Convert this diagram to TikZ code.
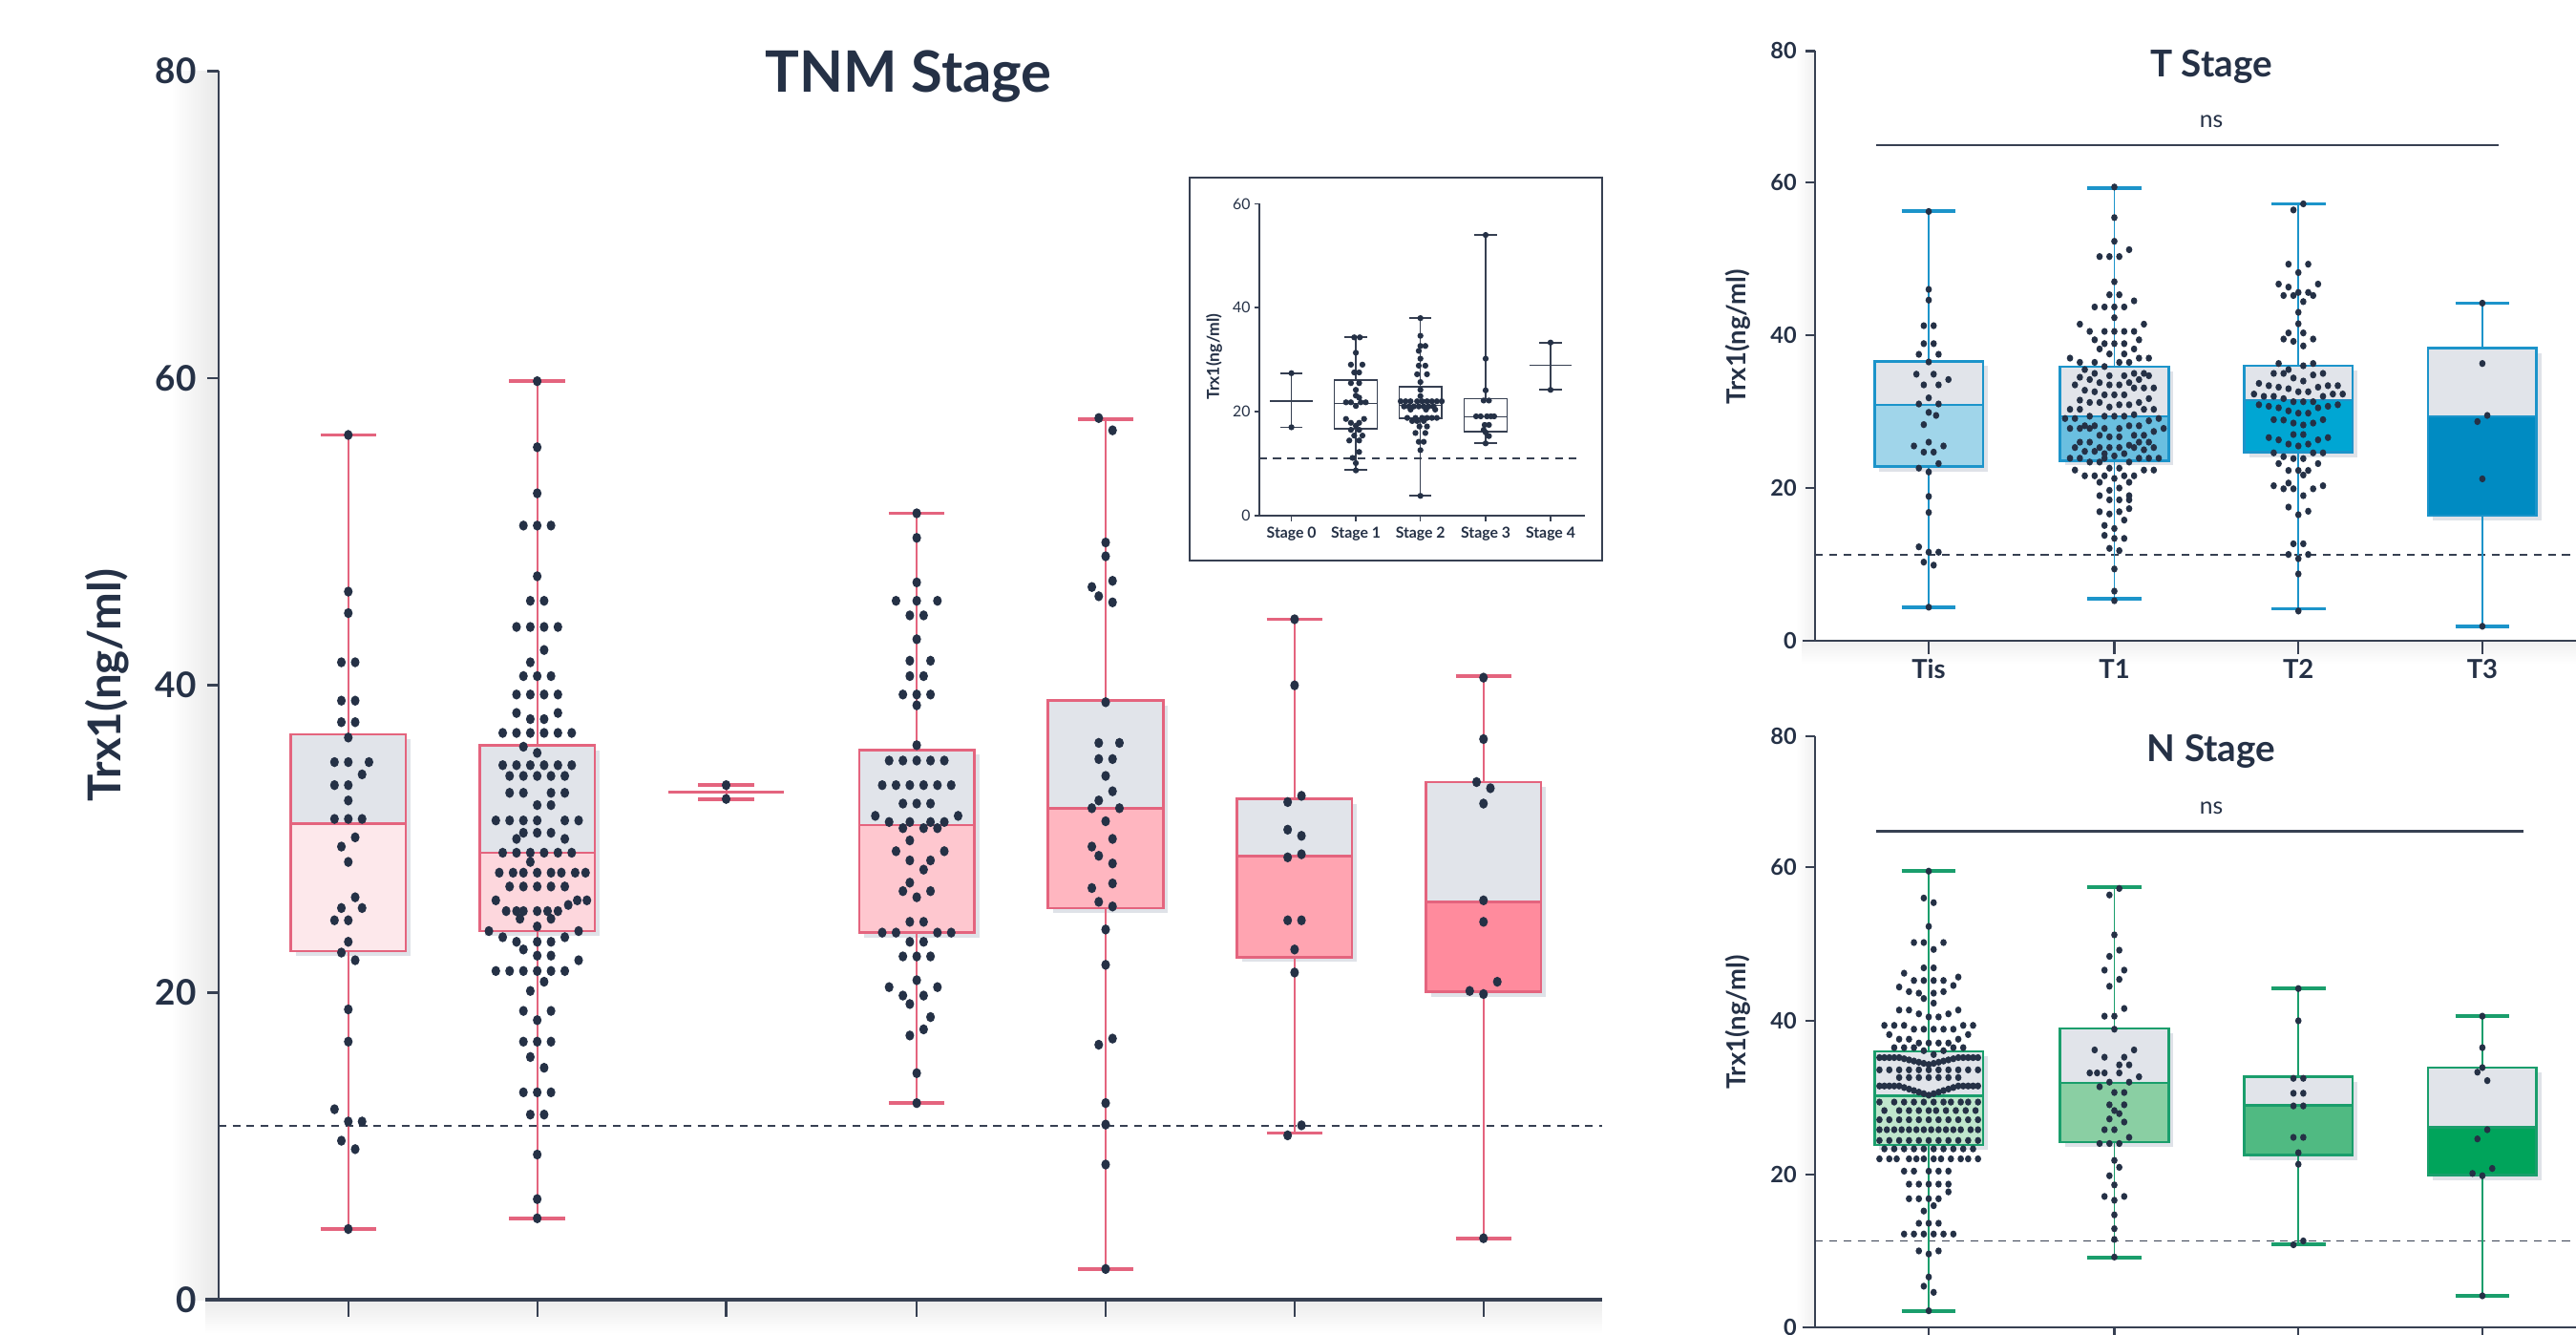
\documentclass[tikz,border=0pt]{standalone}
\usepackage{fontspec}
\setmainfont{Lato}
\definecolor{ink}{RGB}{37,49,70}
\definecolor{axisc}{RGB}{55,64,82}
\definecolor{upper}{RGB}{225,228,234}
\definecolor{boxshade}{RGB}{223,226,232}
\definecolor{rosered}{RGB}{228,100,126}
\definecolor{roseA}{RGB}{253,232,235}
\definecolor{roseB}{RGB}{253,215,221}
\definecolor{roseC}{RGB}{254,199,207}
\definecolor{roseD}{RGB}{255,182,192}
\definecolor{roseE}{RGB}{255,164,177}
\definecolor{roseF}{RGB}{255,139,157}
\definecolor{tblue}{RGB}{28,148,202}
\definecolor{blueA}{RGB}{160,213,234}
\definecolor{blueB}{RGB}{106,191,224}
\definecolor{blueC}{RGB}{0,166,211}
\definecolor{blueD}{RGB}{0,139,194}
\definecolor{ngreen}{RGB}{26,158,108}
\definecolor{greenA}{RGB}{191,230,204}
\definecolor{greenB}{RGB}{138,207,163}
\definecolor{greenC}{RGB}{80,186,130}
\definecolor{greenD}{RGB}{0,164,91}
\tikzset{
  whisk/.style={draw=#1,line width=0.55pt},
  whiskcap/.style={draw=#1,line width=1.1pt},
  boxedge/.style={draw=#1,line width=0.75pt},
  refline/.style={draw=axisc,line width=0.5pt,dash pattern=on 2.3pt off 1.9pt},
  axisline/.style={draw=axisc,line width=0.7pt},
  insetline/.style={draw=axisc,line width=0.45pt},
  numlab/.style={anchor=east},
  paneltitle/.style={anchor=base,font=\bfseries\fontsize{11}{13}\selectfont},
  panelylab/.style={rotate=90,font=\bfseries\fontsize{7.8}{9}\selectfont},
  paneltick/.style={numlab,font=\bfseries\fontsize{6.7}{8}\selectfont},
}
\begin{document}
\begin{tikzpicture}[x=0.017207cm,y=0.017207cm,every node/.style={text=ink,inner sep=0pt}]
\clip (0,0) rectangle (1568,812);
\fill[white] (0,0) rectangle (1568,812);

% ---------- TNM stage ----------
\begin{scope}[shift={(0,21)},y=0.160885cm]
\shade[left color=white,right color=black!9] (104,0) rectangle (133,80);
\shade[top color=black!8,bottom color=white] (125,0) rectangle (975,-2.2);
\draw[refline] (133,11.3) -- (975,11.3);
% boxes: centre/q1/median/q3/min/max/fill
\foreach \cx/\lo/\md/\hi/\wl/\wh/\fc in {212/22.7/31.0/36.8/4.6/56.3/roseA,327/24.0/29.1/36.1/5.3/59.8/roseB,558/23.9/30.9/35.8/12.8/51.2/roseC,673/25.5/32.0/39.0/2.0/57.3/roseD,788/22.3/28.9/32.6/10.85/44.3/roseE,903/20.05/25.9/33.7/4.0/40.6/roseF}{
  \fill[boxshade] (\cx-32,\lo-0.32) rectangle (\cx+38,\hi-0.32);
  \draw[whisk=rosered] (\cx,\wl) -- (\cx,\wh);
  \draw[whiskcap=rosered] (\cx-17,\wl) -- (\cx+17,\wl) (\cx-17,\wh) -- (\cx+17,\wh);
  \fill[\fc] (\cx-35,\lo) rectangle (\cx+35,\md);
  \fill[upper] (\cx-35,\md) rectangle (\cx+35,\hi);
  \draw[boxedge=rosered] (\cx-35,\lo) rectangle (\cx+35,\hi) (\cx-35,\md) -- (\cx+35,\md);
}
% two-sample stage
\draw[whisk=rosered] (442,32.6) -- (442,33.5);
\draw[whiskcap=rosered] (425,32.6) -- (459,32.6) (425,33.5) -- (459,33.5);
\draw[whiskcap=rosered] (407,33.05) -- (477,33.05);
% swarm points: value/{offsets}
\foreach \cx/\rows in {
  212/{56.3/{0},46.1/{0},44.7/{0},41.5/{-1,1},39.0/{-1,1},37.6/{-1,1},36.6/{0},35.0/{-2,0,3},34.2/{2},33.5/{-2,0},32.5/{0},31.3/{-2,0,2},30.1/{1},29.5/{-1},28.5/{0},26.2/{1},25.5/{-1,2},24.7/{-2,0},23.3/{0},22.6/{-1},22.1/{1},18.9/{0},16.8/{0},12.4/{-2},11.6/{0,2},10.35/{-1},9.8/{1},4.6/{0}},
  327/{59.8/{0},55.5/{0},52.5/{0},50.4/{-2,0,2},47.1/{0},45.5/{-1,1},43.8/{-3,-1,1,3},42.3/{1},41.5/{-1},40.6/{-2,0,2},39.4/{-3,-1,1,3},38.2/{-3,3},37.8/{-1,1},36.9/{-5,-3,-1,1,3,5},36.0/{-2},35.6/{0},34.8/{-5,-3,-1,1,3,5},34.1/{-4,-2,0,2,4},33.0/{-4,-2,2,4},32.2/{0,2},31.2/{-6,-4,-2,0,4,6},30.4/{-2,0,2},30.0/{-3,4},29.1/{-5,-3,-1,1,3,5},28.5/{-1},27.8/{-5.5,-3.5,-2,0,2,3.5,5.5,7},26.9/{-4,-2,0,2,4},26.0/{-6,5.8,7.2},25.7/{4.5},25.3/{-4.5,-3,-2,0,1.5,3},24.8/{-2.5,2},24.3/{0},24.0/{-7,6},23.6/{-5,4},23.3/{-3,0,2},22.8/{-2},22.4/{0,2},22.1/{6},21.4/{-6,-4,-2,0,2,4},20.7/{1},20.1/{-1},18.8/{-2,2},18.2/{0},16.8/{-2,0,2},15.8/{-1},15.1/{1},13.5/{-2,0,2},12.05/{-1,1},9.45/{0},6.55/{0},5.3/{0}},
  442/{33.5/{0},32.6/{0}},
  558/{51.2/{0},49.6/{0},46.7/{0},45.5/{-3,0,3},44.55/{-1,1},43.0/{0},41.6/{-1,2},40.6/{-1,1},39.4/{-2,0,2},38.7/{0},36.1/{0},35.1/{-4,-2,0,2,4},33.5/{-5,-3,-1,1,3,5},32.3/{-2,0,2},31.5/{-6,6},31.1/{-4,-1,2,4},30.7/{-2,1,3},29.9/{-1},29.2/{-3,4},28.6/{-1,2},28.0/{1},27.15/{-1},26.6/{-2,2},26.2/{0},24.6/{-1,1},23.9/{-5,-3,3,5},23.3/{-1,1},22.35/{-2,0,2},20.8/{0},20.35/{-4,3},19.8/{-2,1},19.25/{-1},18.4/{2},17.6/{1},17.2/{-1},14.75/{0},12.8/{0}},
  673/{57.4/{-1},56.6/{1},49.3/{0},48.4/{0},46.8/{1},46.4/{-2},45.8/{-1},45.4/{1},38.9/{0},36.25/{-1,2},35.2/{-1,1},34.1/{0},33.1/{1},32.5/{-1},32.0/{-2,2},31.15/{0},30.0/{1},29.5/{-2},28.9/{-1},28.4/{1},27.1/{1},26.8/{-2},25.9/{-1},25.6/{1},24.1/{0},21.8/{0},17.0/{1},16.6/{-1},12.8/{0},11.4/{0},8.8/{0},2.0/{0}},
  788/{44.3/{0},40.0/{0},32.8/{1},32.4/{-1},30.6/{-1},30.2/{1},29.0/{1},28.8/{-1},24.7/{-1,1},22.8/{0},21.3/{0},11.35/{1},10.7/{-1}},
  903/{40.5/{0},36.5/{0},33.7/{-1},33.3/{1},32.3/{0},26.0/{0},24.6/{0},20.7/{2},20.1/{-2},19.9/{0},4.0/{0}}}
  \foreach \v/\hs in \rows
    \foreach \h in \hs
      \fill[ink] ({\cx+4.2*(\h)},\v) ellipse [x radius=1.3pt,y radius=1.5pt];
% axes
\draw[axisline] (133,0) -- (133,80);
\draw[axisline,line width=1pt] (125,0) -- (975,0);
\foreach \t in {0,20,40,60,80}{
  \draw[axisline] (126,\t) -- (133,\t);
  \node[numlab,font=\bfseries\fontsize{10.5}{12}\selectfont] (tnm-y\t) at (120,\t) {\t};}
\foreach \cx in {212,327,442,558,673,788,903}
  \draw[axisline,line width=0.6pt] (\cx,0) -- (\cx,-1.1);
\node[anchor=base,font=\bfseries\fontsize{17}{20}\selectfont] (tnm-title) at (553,78.6) {TNM Stage};
\node[rotate=90,font=\bfseries\fontsize{13.5}{16}\selectfont] (tnm-ylab) at (65,40) {Trx1(ng/ml)};
\end{scope}

% ---------- inset ----------
\fill[white] (724,471) rectangle (975,704);
\draw[axisc,line width=0.6pt] (724,471) rectangle (975,704);
\begin{scope}[shift={(0,498.2)},y=0.054426cm]
\draw[refline,line width=0.35pt] (766.4,11) -- (962,11);
\foreach \cx/\lo/\md/\hi/\wl/\wh in {825.3/16.7/21.6/26.1/8.8/34.4,864.6/18.7/21.2/24.8/3.8/38.0,904.3/16.2/19.0/22.5/13.9/54.0}{
  \draw[insetline] (\cx,\wl) -- (\cx,\lo) (\cx,\hi) -- (\cx,\wh);
  \draw[insetline] (\cx-6.8,\wl) -- (\cx+6.8,\wl) (\cx-6.8,\wh) -- (\cx+6.8,\wh);
  \draw[insetline] (\cx-13,\lo) rectangle (\cx+13,\hi) (\cx-13,\md) -- (\cx+13,\md);
}
\foreach \cx/\lo/\md/\hi in {786.1/17.0/22.0/27.4,943.8/24.2/28.9/33.3}{
  \draw[insetline] (\cx,\lo) -- (\cx,\hi);
  \draw[insetline] (\cx-6.8,\lo) -- (\cx+6.8,\lo) (\cx-6.8,\hi) -- (\cx+6.8,\hi);
  \draw[insetline] (\cx-13,\md) -- (\cx+13,\md);
}
\foreach \cx/\rows in {
  786.1/{27.4/{0},17.0/{0}},
  825.3/{34.3/{-0.5,1.2},31.35/{0},29.05/{-1.5,2},27.55/{-0.5,1},25.5/{-1.5,1},24.2/{0},23.1/{0},22.7/{1},21.8/{-3,-1.5,1.5,3},21.1/{0},18.6/{-3,2.5},17.85/{-1.5,1},17.3/{0},16.5/{-1.5,1},15.4/{-0.5,2},14.45/{-2,1},12.25/{1},11.1/{-1},10.1/{0},8.7/{0}},
  864.6/{38.0/{0},34.6/{0},32.65/{0,1.5},31.7/{-0.5},30.2/{0},28.85/{-0.5,1.5},27.2/{-1,2},25.7/{0},24.2/{0},23.0/{0},22.0/{-6,-4.5,-3,-1,0.5,2,3.5,5,6.5},21.0/{-5,-3.5,-2,-0.5,1,2.5,4},20.4/{-3,1.7,4.5},18.8/{-4,-1.5,0.5,2,3.5,5},18.2/{-2.5,-1,1},17.15/{-0.3,2},15.9/{-1.5,1.5},14.2/{-0.5,1},12.6/{0},3.8/{0}},
  904.3/{54.0/{0},30.2/{0},24.1/{0},22.15/{-0.6,1},19.1/{-2.9,-1.5,0.4,1.6,2.6},17.45/{-0.3,1},16.5/{-0.6},16.0/{0},15.3/{1},13.9/{0}},
  943.8/{33.3/{0},24.2/{0}}}
  \foreach \v/\hs in \rows
    \foreach \h in \hs
      \fill[ink] ({\cx+2*(\h)},\v) circle [radius=0.9pt];
\draw[insetline] (766.4,0) -- (766.4,60);
\draw[insetline] (766.4,0) -- (965,0);
\foreach \t in {0,20,40,60}{
  \draw[insetline] (763.4,\t) -- (766.4,\t);
  \node[numlab,font=\fontsize{4.5}{5}\selectfont] (ins-y\t) at (761.5,\t) {\t};}
\foreach \cx/\i in {786.1/0,825.3/1,864.6/2,904.3/3,943.8/4}{
  \draw[insetline] (\cx,0) -- (\cx,-1.2);
  \node[font=\bfseries\fontsize{4.5}{5}\selectfont] (ins-x\i) at (\cx,-3.6) {Stage \i};}
\node[rotate=90,font=\bfseries\fontsize{5}{6}\selectfont] (ins-ylab) at (739,30.6) {Trx1(ng/ml)};
\end{scope}

% ---------- T stage ----------
\begin{scope}[shift={(0,422)},y=0.080013cm]
\shade[left color=white,right color=black!6] (1093,0) rectangle (1105,77.2);
\shade[top color=black!6,bottom color=white] (1097,0) rectangle (1568,-3);
\draw[refline] (1105,11.3) -- (1568,11.3);
\foreach \cx/\lo/\md/\hi/\wl/\wh/\fc in {1174/22.8/30.9/36.6/4.35/56.3/blueA,1287/23.6/29.4/35.9/5.5/59.3/blueB,1399/24.7/31.5/36.0/4.2/57.2/blueC,1511/16.4/29.4/38.3/1.9/44.2/blueD}{
  \fill[boxshade] (\cx-30,\lo-0.65) rectangle (\cx+36,\hi-0.65);
  \draw[whisk=tblue] (\cx,\wl) -- (\cx,\wh);
  \draw[whiskcap=tblue] (\cx-16.5,\wl) -- (\cx+16.5,\wl) (\cx-16.5,\wh) -- (\cx+16.5,\wh);
  \fill[\fc] (\cx-33,\lo) rectangle (\cx+33,\md);
  \fill[upper] (\cx-33,\md) rectangle (\cx+33,\hi);
  \draw[boxedge=tblue] (\cx-33,\lo) rectangle (\cx+33,\hi) (\cx-33,\md) -- (\cx+33,\md);
}
\foreach \cx/\rows in {
  1174/{56.2/{0},46.0/{0},44.6/{0},41.25/{-1,1},38.9/{-1,1},37.5/{-2,2},36.5/{0},34.9/{-2.5,1},34.2/{4},33.5/{-1,2},31.8/{0},31.0/{-2,2},29.9/{0},29.5/{1.5},28.3/{-1},26.0/{0},25.5/{-3,3},24.7/{-1,1},23.2/{2},22.6/{-2},22.1/{0},18.9/{0},16.8/{0},12.3/{-2},11.6/{0,2},10.3/{-1},9.9/{1},4.4/{0}},
  1287/{59.4/{0},55.4/{0},52.3/{0},51.2/{3},50.3/{-3,-1,1},47.0/{0},45.3/{-1,1},44.5/{4},43.7/{-4,-2,0,2},42.3/{0},41.45/{-7,6},40.5/{-5,-2,0,2,4},39.4/{-4,5},38.9/{-2,0,2},38.2/{-3,4},37.55/{-1,2},37.0/{-9,5,7},36.45/{-7,-4,1,3},35.9/{-2},35.5/{-6},35.0/{-4,4,6},34.7/{-1,2,7},34.5/{-7},34.2/{-5,5},33.8/{-3,3},33.5/{-8,-1,1},33.1/{4,6,8},32.8/{-6},32.6/{-4},32.2/{-2,0,2},31.7/{7},31.5/{-7},31.2/{-5,-3,5},30.9/{1,3},30.6/{-1},30.3/{-9,-7,6,8},29.6/{4},29.4/{-5,-2,0,2},29.1/{-10,-8,9},28.8/{7},28.15/{-6,-4,3,5},27.8/{-9,-7,-5,-2,1,10},27.4/{8},26.9/{-3,4,6},26.7/{-1,1},26.0/{-7,-5,5,7},25.6/{3},25.3/{-8,-3,-1,1,4,8},25.0/{6},24.8/{-6,-4},24.5/{-2,2},24.2/{0},23.9/{-9,-7,-2,5,7,9},23.4/{-5,-3,3},22.6/{-1,1},22.35/{-8,6,8},21.6/{-6,-4,-2,2,4},21.25/{0},20.75/{-3,3},20.0/{1},19.7/{-1},19.0/{-3,3},18.45/{-1,1,3},17.3/{3},16.9/{-3,1},16.6/{-1},15.8/{2},15.1/{-2},14.7/{0},13.8/{-2},13.4/{0,2},12.1/{-1},11.8/{1},9.4/{0},6.5/{0},5.25/{0}},
  1399/{57.2/{1},56.4/{-1},49.3/{-2,2},48.2/{0},46.7/{-4,4},46.3/{-2},45.6/{0,2},45.2/{-3,-1,3},44.4/{1},43.0/{0},41.5/{0},40.3/{-2,1},39.5/{-3,3},39.2/{-1},38.6/{1},36.3/{-4,3},36.0/{1},35.5/{-2},35.0/{-5,-3,5},34.8/{3},34.4/{-1},34.0/{1},33.7/{-8},33.4/{-6,6,8},33.2/{-4,4},33.0/{-2},32.6/{0,2},32.3/{-9,7,9},32.0/{-7,-5,5},31.7/{-3},31.3/{-1,1,3},30.9/{-8,8},30.7/{-6,6},30.5/{-4,4},30.1/{-2},29.8/{0,2},28.95/{-5,5},28.9/{-3},28.5/{-1,3},28.25/{1},27.0/{-1,1},26.6/{-6,6},26.3/{-4,4},25.75/{-2,2},25.5/{0},24.6/{-5,3,5},24.1/{-3},23.85/{-1,1},23.2/{-4,4},22.3/{-2,0,2},21.7/{1},20.65/{-2},20.3/{-5,5},19.9/{-3,-1,3},19.0/{1},17.5/{-2},16.96/{2},16.5/{0},12.7/{-1,1},11.3/{-2,2},10.75/{0},8.75/{0},3.9/{0}},
  1511/{44.2/{0},36.3/{0},29.5/{1},28.7/{-1},21.2/{0},1.9/{0}}}
  \foreach \v/\hs in \rows
    \foreach \h in \hs
      \fill[ink] ({\cx+3*(\h)},\v) ellipse [x radius=0.95pt,y radius=1.05pt];
\draw[axisline,line width=0.6pt] (1105,0) -- (1105,77.2);
\draw[axisline,line width=0.6pt] (1097,0) -- (1568,0);
\foreach \t/\p in {0/0,20/20,40/40,60/60,80/77.2}{
  \draw[axisline,line width=0.6pt] (1099,\p) -- (1105,\p);
  \node[paneltick] (t-y\t) at (1094,\p) {\t};}
\foreach \cx/\lab in {1174/Tis,1287/T1,1399/T2,1511/T3}{
  \draw[axisline,line width=0.6pt] (\cx,0) -- (\cx,-1.8);
  \node[font=\bfseries\fontsize{7.8}{9}\selectfont] (t-\lab) at (\cx,-3.7) {\lab};}
\draw[axisline,line width=0.6pt] (1142,64.9) -- (1521,64.9);
\node[font=\fontsize{7}{8}\selectfont] (t-ns) at (1346,68.0) {ns};
\node[paneltitle] (t-title) at (1346,73.8) {T Stage};
\node[panelylab] (t-ylab) at (1058,39.8) {Trx1(ng/ml)};
\end{scope}

% ---------- N stage ----------
\begin{scope}[shift={(0,4)},y=0.080357cm]
\shade[left color=white,right color=black!6] (1093,0) rectangle (1105,77.1);
\draw[refline] (1105,11.3) -- (1568,11.3);
\foreach \cx/\lo/\md/\hi/\wl/\wh/\fc in {1174/23.8/30.2/36.0/2.2/59.5/greenA,1287/24.2/31.9/39.0/9.1/57.4/greenB,1399/22.5/29.0/32.7/10.9/44.2/greenC,1511/19.9/26.1/33.9/4.15/40.6/greenD}{
  \fill[boxshade] (\cx-30,\lo-0.65) rectangle (\cx+36,\hi-0.65);
  \draw[whisk=ngreen] (\cx,\wl) -- (\cx,\wh);
  \draw[whiskcap=ngreen] (\cx-16.5,\wl) -- (\cx+16.5,\wl) (\cx-16.5,\wh) -- (\cx+16.5,\wh);
  \fill[\fc] (\cx-33,\lo) rectangle (\cx+33,\md);
  \fill[upper] (\cx-33,\md) rectangle (\cx+33,\hi);
  \draw[boxedge=ngreen] (\cx-33,\lo) rectangle (\cx+33,\hi) (\cx-33,\md) -- (\cx+33,\md);
}
\foreach \cx/\rows in {
  1174/{59.5/{0},56.0/{-1},55.4/{1},52.3/{0},50.2/{-3,-1,3},49.3/{1},46.9/{-1,1},46.2/{-5},45.7/{6},45.25/{-3,-1,1,3},44.6/{5},44.4/{-6},43.8/{-4,3},43.6/{-2,1},42.9/{-1},42.3/{1},41.4/{-6,-4,6},40.9/{-2,4},40.5/{0,2},39.4/{-9,-7,-5,7,9},38.9/{-3,-1,1,3,5},38.2/{-8,8},37.6/{-6,-4,6},37.1/{-2,0,2,4},36.5/{-7,-5,-3,5,7},36.1/{-1,3},35.6/{1},33.6/{-10,-8,-6,-4,-2,0,2,4,6,8,10},32.6/{-6,-4,-2,0,2,4,6},29.4/{-10,-7,-5,-3,-1,1,3,4.5,6.5,8,10},28.3/{-9,-6,-4,-2,0,1.5,3.5,5.5,7.5,9.5},27.1/{-10,-8,-6,-4,-2,0,2,4,6,8,10},25.8/{-10,-8.5,-7,-5.5,-4,-2.5,-1,0.5,2,3.5,5,6.5,8.5,10},24.4/{-10,-8,-6,-4,-2,0,2,4,6,8,10},23.3/{-9,-7,-5,-3,-1,1,3,5,7,9},22.0/{-10,-8,-6.5,-4,-2.5,-1,1,2.5,4.5,6.5,8,10},20.4/{-5,-3,0,2,4},18.7/{-4,-2,0,2,4},17.7/{4},16.8/{-4,-2,0,2},15.9/{1},15.2/{-1},13.6/{-2,0,2},12.2/{-5,-3,-1,1,3,5},10.0/{-2,2},9.6/{0},6.6/{0},5.4/{-1},4.6/{1},2.2/{0}},
  1287/{57.25/{1},56.4/{-1},51.2/{0},49.2/{1},48.4/{-1},46.6/{-2,2},45.4/{1},44.5/{-1},41.6/{2},40.6/{-2,0},38.9/{0},36.2/{-4,4},35.25/{-2,2},34.25/{1,3},33.2/{-5,-3.5,-2,1},32.7/{5},32.0/{-1,3},31.4/{-3},30.65/{0,2},29.05/{-1,2},28.3/{0},27.9/{1},27.2/{-1},26.8/{2},25.8/{-2,0},24.8/{3},24.0/{-3,-1,1},21.8/{0},20.9/{1},19.8/{-1},18.6/{0},17.1/{-2,2},16.6/{0},14.7/{0},12.9/{0},11.5/{0},9.2/{0}},
  1399/{44.2/{0},40.0/{0},32.5/{-1,1},30.55/{-1,1},28.9/{-1,1},24.8/{-1,1},22.8/{0},21.3/{0},11.3/{1},10.8/{-1}},
  1511/{40.6/{0},36.5/{0},33.9/{0},33.3/{-1},32.2/{1},25.8/{1},24.6/{-1},20.75/{2},20.1/{-2},19.8/{0},4.15/{0}}}
  \foreach \v/\hs in \rows
    \foreach \h in \hs
      \fill[ink] ({\cx+3*(\h)},\v) ellipse [x radius=0.95pt,y radius=1.05pt];
% dense rows bending at the middle
\foreach \h in {-10,-9,...,10}{
  \fill[ink] ({1174+3*\h},{35.2-0.9*max(0,1-abs(\h)/6)}) ellipse [x radius=0.95pt,y radius=1.05pt];
  \fill[ink] ({1174+3*\h},{31.5-1.2*max(0,1-abs(\h)/6)}) ellipse [x radius=0.95pt,y radius=1.05pt];}
\draw[axisline,line width=0.6pt] (1105,0) -- (1105,77.1);
\draw[axisline,line width=0.6pt] (1097,0) -- (1568,0);
\foreach \t/\p in {0/0,20/20,40/40,60/60,80/77.1}{
  \draw[axisline,line width=0.6pt] (1099,\p) -- (1105,\p);
  \node[paneltick] (n-y\t) at (1094,\p) {\t};}
\foreach \cx in {1174,1287,1399,1511}
  \draw[axisline,line width=0.6pt] (\cx,0) -- (\cx,-1.8);
\draw[axisline,line width=0.6pt] (1142,64.7) -- (1536,64.7);
\node[font=\fontsize{7}{8}\selectfont] (n-ns) at (1346,67.7) {ns};
\node[paneltitle] (n-title) at (1346,73.75) {N Stage};
\node[panelylab] (n-ylab) at (1058,39.8) {Trx1(ng/ml)};
\end{scope}
\end{tikzpicture}
\end{document}
